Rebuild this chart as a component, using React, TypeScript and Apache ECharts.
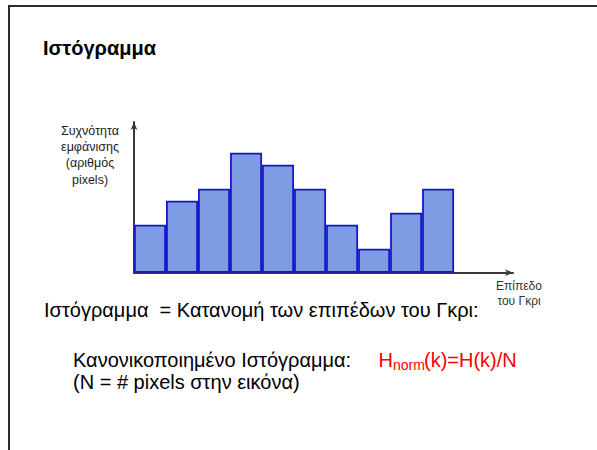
import React, { useEffect, useRef } from "react";
import * as echarts from "echarts";

// Histogram: frequency per grey level bin (arbitrary units)
const levels: number[] = [0, 1, 2, 3, 4, 5, 6, 7, 8, 9];
const counts: number[] = [2, 3, 3.5, 5, 4.5, 3.5, 2, 1, 2.5, 3.5];

const titleText = "Ιστόγραμμα";
const yAxisLabel = ["Συχνότητα", "εμφάνισης", "(αριθμός", "pixels)"];
const xAxisLabel = ["Επίπεδο", "του Γκρι"];
const line1 = "Ιστόγραμμα  = Κατανομή των επιπέδων του Γκρι:";
const line2 = "Κανονικοποιημένο Ιστόγραμμα:";
const line3 = "(N = # pixels στην εικόνα)";
const formulaH = "H";
const formulaSub = "norm";
const formulaRest = "(k)=H(k)/N";

const FONT = "'Liberation Sans', Arial, sans-serif";

export default function App() {
  const ref = useRef<HTMLDivElement>(null);
  useEffect(() => {
    if (!ref.current) return;
    const chart = echarts.init(ref.current, null, { renderer: "svg" });
    const axisColor = "#3a3a3a";
    chart.setOption({
      animation: false,
      backgroundColor: "#ffffff",
      grid: { left: 134, top: 122, right: 84, bottom: 177.3, containLabel: false },
      xAxis: {
        type: "value",
        min: 0,
        max: 11.84,
        axisLine: {
          show: true,
          onZero: false,
          symbol: ["none", "arrow"],
          symbolSize: [5, 8],
          lineStyle: { color: axisColor, width: 2 },
        },
        axisTick: { show: false },
        axisLabel: { show: false },
        splitLine: { show: false },
      },
      yAxis: {
        type: "value",
        min: 0,
        max: 6.28,
        axisLine: {
          show: true,
          symbol: ["none", "arrow"],
          symbolSize: [5, 8],
          lineStyle: { color: axisColor, width: 2 },
        },
        axisTick: { show: false },
        axisLabel: { show: false },
        splitLine: { show: false },
      },
      series: [
        {
          type: "bar",
          data: levels.map((k, i) => [k + 0.5, counts[i]]),
          barWidth: 32,
          z: 1,
          itemStyle: {
            color: "#7d9ce3",
            borderColor: "#1717c9",
            borderWidth: 1.8,
          },
        },
      ],
      graphic: [
        // slide border (top and left)
        { type: "line", shape: { x1: 8, y1: 6, x2: 597, y2: 6 }, style: { stroke: "#2b2b2b", lineWidth: 2 } },
        { type: "line", shape: { x1: 9, y1: 5, x2: 9, y2: 450 }, style: { stroke: "#2b2b2b", lineWidth: 2 } },
        {
          type: "text",
          x: 43,
          y: 48,
          style: { text: titleText, font: `bold 20px ${FONT}`, fill: "#000", verticalAlign: "middle" },
        },
        {
          type: "text",
          x: 90,
          y: 122.5,
          style: {
            text: yAxisLabel.join("\n"),
            font: `12.5px ${FONT}`,
            lineHeight: 16.3,
            fill: "#222",
            align: "center",
            verticalAlign: "top",
          },
        },
        {
          type: "text",
          x: 519,
          y: 278,
          style: {
            text: xAxisLabel.join("\n"),
            font: `12px ${FONT}`,
            lineHeight: 15.5,
            fill: "#333",
            align: "center",
            verticalAlign: "top",
          },
        },
        {
          type: "text",
          x: 44,
          y: 310,
          style: { text: line1, font: `20px ${FONT}`, fill: "#000", verticalAlign: "middle" },
        },
        {
          type: "text",
          x: 73,
          y: 359.7,
          style: { text: line2, font: `20px ${FONT}`, fill: "#000", verticalAlign: "middle" },
        },
        {
          type: "text",
          x: 73,
          y: 382,
          style: { text: line3, font: `20px ${FONT}`, fill: "#000", verticalAlign: "middle" },
        },
        {
          type: "text",
          x: 378.5,
          y: 359.7,
          style: { text: formulaH, font: `20px ${FONT}`, fill: "#ff0000", verticalAlign: "middle" },
        },
        {
          type: "text",
          x: 393,
          y: 365,
          style: { text: formulaSub, font: `14px ${FONT}`, fill: "#ff0000", verticalAlign: "middle" },
        },
        {
          type: "text",
          x: 424,
          y: 359.7,
          style: { text: formulaRest, font: `20px ${FONT}`, fill: "#ff0000", verticalAlign: "middle" },
        },
      ],
    });
    return () => chart.dispose();
  }, []);
  return (
    <div
      ref={ref}
      style={{ position: "fixed", left: 0, top: 0, width: 597, height: 450 }}
    />
  );
}
